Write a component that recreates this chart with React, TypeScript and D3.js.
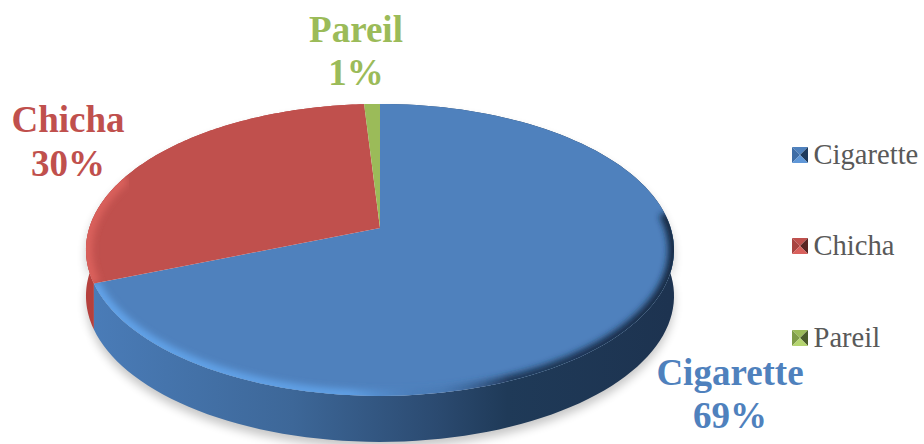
import React from "react";
import * as d3 from "d3";

const categories = ["Cigarette", "Chicha", "Pareil"];
const shares = [69, 30, 1];
const colors = ["#4f81bd", "#c0504d", "#9bbb59"];
const markerDarks = ["#1f3a5c", "#5a2523", "#4a5c2a"];
const markerMids = ["#3f6da6", "#a84340", "#7f9c48"];
const lights = ["#5f97d8", "#d9605c", "#b5d56f"];
const sideStops: [number, string][] = [[0, "#4a7cb8"], [0.35, "#3d6798"], [0.6, "#2b4a70"], [0.72, "#1f3a58"], [1, "#1d3350"]];
const rimStops: [number, string, number][] = [[0, "#62a2e8", 1], [0.45, "#5f9fe4", 1], [0.6, "#3f6fa8", 0.3], [0.72, "#1b3150", 0.9], [1, "#162a44", 1]];
const legendY = [155, 246, 338];
const labelPos: [number, number, number][] = [[730, 385, 428], [68, 132, 176], [356, 42, 85]];

const W = 924, H = 444;
const cx = 380, cy = 228, R = 290.7, A = 142.7, C = 0.15, depth = 46;
const project = (t: number): [number, number] => {
  const u = Math.sin(t), v = -Math.cos(t), w = 1 - C * v;
  return [cx + (R * u) / w, cy + (A * v) / w];
};
const arcPts = (a: number, b: number) => d3.range(0, 121).map((i) => project(a + ((b - a) * i) / 120));
const line = d3.line();
const arcs = d3.pie<number>().sort(null)(shares);
const deg = Math.PI / 180;
const rimRange: [number, number][] = [[84 * deg, arcs[0].endAngle], [arcs[1].startAngle, 292 * deg], [0, 0]];

export default function App() {
  const topPath = (i: number) => line([[cx, cy], ...arcPts(arcs[i].startAngle, arcs[i].endAngle)])! + "Z";
  const sidePath = (i: number) => {
    const p = arcPts(arcs[i].startAngle, arcs[i].endAngle);
    return line([...p, ...p.slice().reverse().map(([x, y]) => [x, y + depth] as [number, number])])! + "Z";
  };
  return (
    <svg width={W} height={H} style={{ position: "absolute", left: 0, top: 0 }} fontFamily="'Liberation Serif', serif">
      <defs>
        <linearGradient id="side" gradientUnits="userSpaceOnUse" x1={90} x2={670} y1={0} y2={0}>
          {sideStops.map(([o, c]) => <stop key={o} offset={o} stopColor={c} />)}
        </linearGradient>
        <linearGradient id="rim" gradientUnits="userSpaceOnUse" x1={90} x2={670} y1={0} y2={0}>
          {rimStops.map(([o, c, a]) => <stop key={o} offset={o} stopColor={c} stopOpacity={a} />)}
        </linearGradient>
        <filter id="b3" x="-10%" y="-10%" width="120%" height="120%"><feGaussianBlur stdDeviation="3" /></filter>
        <filter id="b6" x="-10%" y="-10%" width="120%" height="120%"><feGaussianBlur stdDeviation="5" /></filter>
        {arcs.map((_, i) => <clipPath id={`c${i}`} key={i}><path d={topPath(i)} /></clipPath>)}
      </defs>
      <path d={sidePath(0)} transform="translate(0,6)" fill="#000" opacity={0.22} filter="url(#b6)" />
      <path d={sidePath(1)} transform="translate(0,6)" fill="#000" opacity={0.22} filter="url(#b6)" />
      <path d={sidePath(1)} fill="#b5403d" />
      <path d={sidePath(0)} fill="url(#side)" />
      {arcs.map((_, i) => <path key={i} d={topPath(i)} fill={colors[i]} />)}
      <g clipPath="url(#c0)">
        <path d={line(arcPts(rimRange[0][0], rimRange[0][1]))!} fill="none" stroke="url(#rim)" strokeWidth={12} filter="url(#b3)" />
      </g>
      <g clipPath="url(#c1)">
        <path d={line(arcPts(rimRange[1][0], rimRange[1][1]))!} fill="none" stroke={lights[1]} strokeWidth={13} filter="url(#b3)" />
      </g>
      {categories.map((c, i) => (
        <text key={c} textAnchor="middle" fontWeight="bold" fontSize={37} fill={colors[i]}>
          <tspan x={labelPos[i][0]} y={labelPos[i][1]}>{c}</tspan>
          <tspan x={labelPos[i][0]} y={labelPos[i][2]}>{shares[i]}%</tspan>
        </text>
      ))}
      {categories.map((c, i) => {
        const x = 792, y = legendY[i] - 8, s = 16, m = s / 2;
        return (
          <g key={c} transform={`translate(${x},${y})`}>
            <path d={`M0,0L${s},0L${m},${m}Z`} fill={colors[i]} />
            <path d={`M0,0L0,${s}L${m},${m}Z`} fill={markerMids[i]} />
            <path d={`M${s},0L${s},${s}L${m},${m}Z`} fill={markerDarks[i]} />
            <path d={`M0,${s}L${s},${s}L${m},${m}Z`} fill={lights[i]} />
            <text x={21.5} y={16.5} fontSize={28.6} fill="#595959">{c}</text>
          </g>
        );
      })}
    </svg>
  );
}
